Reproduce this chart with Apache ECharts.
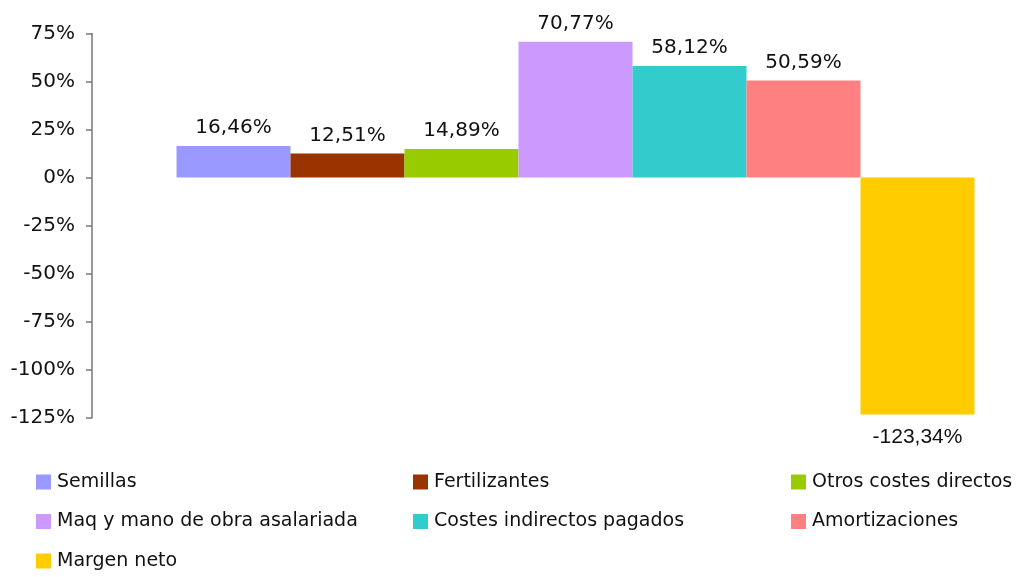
<!DOCTYPE html>
<html><head><meta charset="utf-8">
<script src="https://cdn.jsdelivr.net/npm/echarts@6/dist/echarts.min.js"></script>
<style>html,body{margin:0;padding:0;background:#fff}#c{width:1017px;height:577px}</style>
</head><body><div id="c"></div>
<script>
const seriesNames = ["Semillas","Fertilizantes","Otros costes directos","Maq y mano de obra asalariada","Costes indirectos pagados","Amortizaciones","Margen neto"];
const seriesValues = [16.46, 12.51, 14.89, 70.77, 58.12, 50.59, -123.34];
const seriesColors = ["#9999FF","#993300","#99CC00","#CC99FF","#33CCCC","#FF8080","#FFCC00"];
const yTicks = [-125,-100,-75,-50,-25,0,25,50,75];
const legendCols = [36, 413, 791];
const legendRows = [482.5, 522, 561.5];

const font = "DejaVu Sans";
const chart = echarts.init(document.getElementById('c'));
const fmt = v => v.toFixed(2).replace('.', ',') + '%';
const legends = seriesNames.map((n, i) => ({
  data: [n],
  left: legendCols[i % 3],
  top: legendRows[Math.floor(i / 3)] - 10,
  itemWidth: 15, itemHeight: 15, itemGap: 0,
  icon: 'rect',
  selectedMode: false,
  textStyle: {fontFamily: font, fontSize: 19, color: '#111', padding: [0,0,0,1]},
  padding: 0
}));
const spacer = {
  name: '_spacer', type: 'bar', barWidth: 42, barGap: '0%', silent: true,
  itemStyle: {color: 'rgba(0,0,0,0)'}, label: {show: false}, data: [0]
};
chart.setOption({
  animation: false,
  legend: legends,
  grid: {left: 92, right: 0, top: 33.5, bottom: 159.3, containLabel: false},
  xAxis: {type: 'category', data: [''], show: false},
  yAxis: {
    type: 'value', min: yTicks[0], max: yTicks[yTicks.length-1], interval: 25,
    axisLine: {show: true, lineStyle: {color: '#777', width: 1.5}},
    axisTick: {show: true, length: 6, lineStyle: {color: '#777', width: 1.5}},
    splitLine: {show: false},
    axisLabel: {fontFamily: font, fontSize: 20, color: '#111', margin: 17, formatter: v => v + '%'}
  },
  series: [spacer].concat(seriesNames.map((n, i) => ({
    name: n, type: 'bar', barWidth: 114, barGap: '0%',
    itemStyle: {color: seriesColors[i]},
    label: {show: true, position: seriesValues[i] >= 0 ? 'top' : 'bottom', distance: seriesValues[i] >= 0 ? 8 : 12,
      fontFamily: seriesValues[i] >= 0 ? font : 'Liberation Sans', fontSize: seriesValues[i] >= 0 ? 20 : 21,
      color: '#111', formatter: p => fmt(p.value)},
    data: [seriesValues[i]]
  })))
});
</script></body></html>
